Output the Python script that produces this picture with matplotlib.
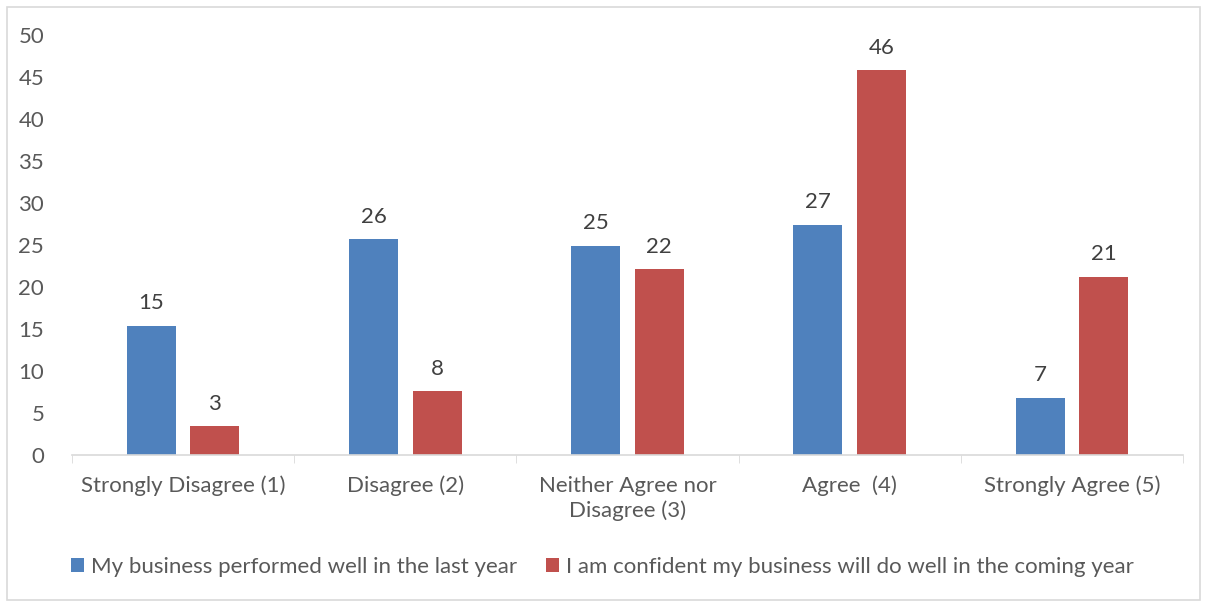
import numpy as np
import matplotlib.pyplot as plt
from matplotlib.patches import Rectangle

categories = ['Strongly Disagree (1)', 'Disagree (2)', 'Neither Agree nor\nDisagree (3)',
              'Agree  (4)', 'Strongly Agree (5)']
last_year = [15.4, 25.7, 24.9, 27.4, 6.8]
coming_year = [3.4, 7.6, 22.1, 45.8, 21.2]
last_labels = [15, 26, 25, 27, 7]
coming_labels = [3, 8, 22, 46, 21]
series_names = ['My business performed well in the last year',
                'I am confident my business will do well in the coming year']

plt.rcParams['font.family'] = ['Lato', 'DejaVu Sans']
txt = '#595959'
fs = 16

fig = plt.figure(figsize=(12.05, 6.01), dpi=100)
# 图表外框
fig.patches.append(Rectangle((7 / 1205, 0.002), 1193 / 1205, 0.986, transform=fig.transFigure,
                             fill=False, edgecolor='#d9d9d9', linewidth=1.2))
ax = fig.add_axes([72 / 1205, 1 - 455 / 601, 1111 / 1205, 420 / 601])

x = np.arange(len(categories))
w = 0.22
b1 = ax.bar(x - 0.143, last_year, w, color='#4f81bd', label=series_names[0])
b2 = ax.bar(x + 0.143, coming_year, w, color='#c0504d', label=series_names[1])

for bars, labs in [(b1, last_labels), (b2, coming_labels)]:
    for b, l in zip(bars, labs):
        ax.text(b.get_x() + b.get_width() / 2, b.get_height() + 1.5, str(l),
                ha='center', va='bottom', fontsize=fs, color='#404040')

ax.set_xlim(-0.5, 4.5)
ax.set_ylim(0, 50)
ax.set_yticks(range(0, 51, 5))
ax.set_xticks(x)
ax.set_xticklabels(categories, linespacing=1.3)
ax.set_xticks(np.arange(-0.5, 5, 1), minor=True)
ax.tick_params(axis='x', which='major', length=0, pad=15, labelsize=fs, labelcolor=txt)
ax.tick_params(axis='x', which='minor', length=6, color='#d9d9d9', direction='out')
ax.tick_params(axis='y', length=0, pad=20, labelsize=fs, labelcolor=txt)
for s in ['top', 'right', 'left']:
    ax.spines[s].set_visible(False)
ax.spines['bottom'].set_color('#d9d9d9')
ax.spines['bottom'].set_linewidth(1.2)

fig.legend(handles=[b1, b2], loc='center', bbox_to_anchor=(0.5, 1 - 567 / 601), ncol=2,
           frameon=False, fontsize=fs, labelcolor=txt, handlelength=0.6, handleheight=0.6,
           handletextpad=0.3, columnspacing=1.3)

plt.savefig('out.png', dpi=100)
